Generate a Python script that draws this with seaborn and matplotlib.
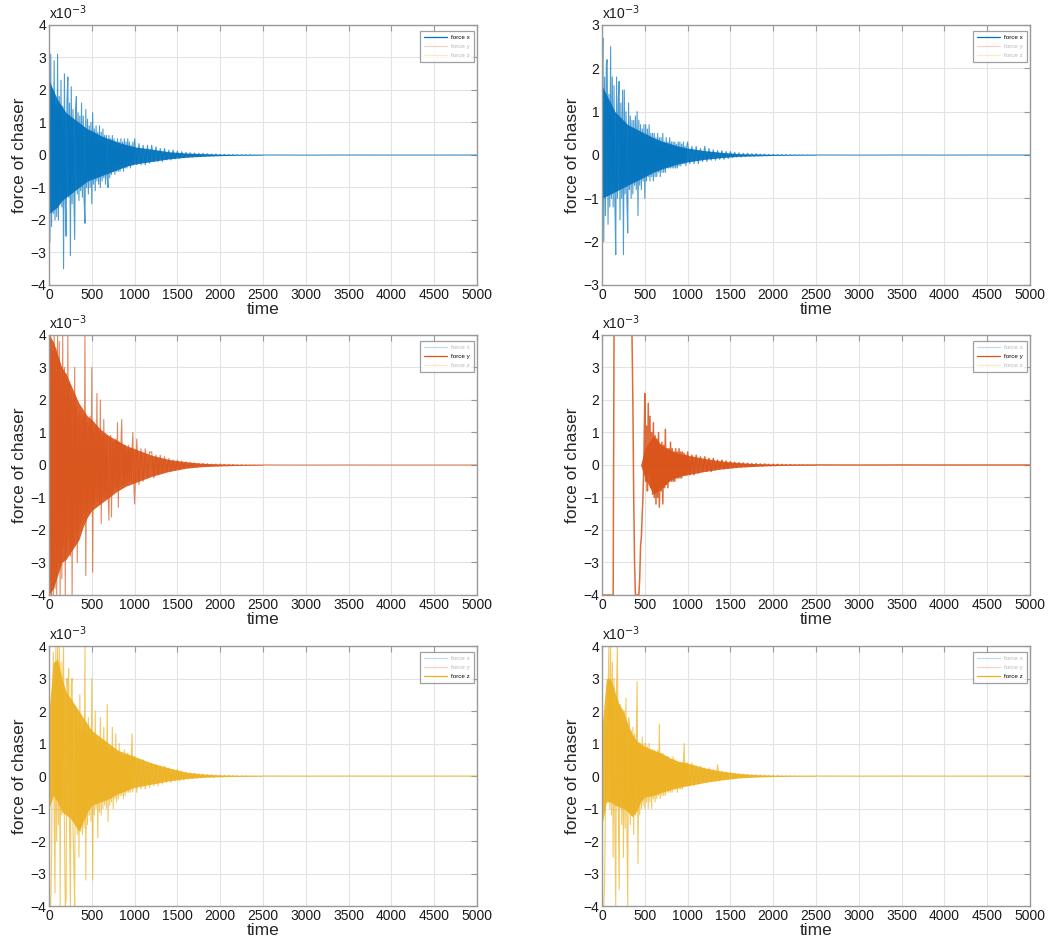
import numpy as np
import pandas as pd
import matplotlib
matplotlib.use('Agg')
import matplotlib.pyplot as plt
import seaborn as sns
from matplotlib.lines import Line2D

sns.set_style('white')
plt.rcParams['font.family'] = ['Liberation Sans', 'DejaVu Sans']

# time grid: dense where the signal is busy, coarse in the quiet tail
t_early = np.arange(0, 1000, 10)
t_late = np.arange(1000, 2500, 25)
t_tail = np.array([2500, 3000, 3500, 4000, 4500, 5000])
time = np.concatenate([t_early, t_late, t_tail])

# times at which the edges of the dense dark core were read
t_env = [0, 50, 100, 150, 200, 250, 300, 350, 400, 450, 500, 600, 700,
         800, 900, 1000, 1200, 1400, 1600, 1800, 2000, 2200, 2500]

names = ['force x', 'force y', 'force z']
colors = ['#0072BD', '#D95319', '#EDB120']

# values, in units of 1e-3
fx_left = [
    3.2, -2.7, 3.1, -2.2, 2.0, -1.8, 2.9, -2.0, 1.6, -1.9,
    3.1, -2.0, 1.8, -1.5, 2.3, -1.6, 1.5, -3.5, 2.5, -1.4,
    -2.5, 1.7, 2.4, -1.3, 1.6, -3.1, 2.1, -1.5, 1.4, -1.2,
    -2.6, 1.4, 1.8, -1.2, 1.3, -1.4, 1.2, -1.1, 1.6, -1.3,
    1.2, -1.4, -2.1, 1.4, -1.0, 1.1, -1.2, 0.9, -1.0, 1.0,
    -1.5, 1.3, -0.9, 0.8, -1.1, 0.9, -0.8, 0.7, -0.9, 0.9,
    -1.0, 0.7, -0.8, 0.8, -0.7, 0.6, -0.9, 0.6, -0.7, -1.0,
    0.6, -0.7, 0.5, -0.6, 0.6, -0.5, 0.5, -0.6, 0.4, -0.5,
    0.5, -0.5, 0.4, -0.5, 0.5, -0.4, 0.4, -0.5, 0.5, -0.4,
    0.4, -0.4, 0.5, -0.3, 0.4, -0.4, 0.3, -0.3, 0.4, -0.3,
    0.5, -0.3, 0.35, -0.3, 0.3, -0.3, 0.3, -0.25,
    0.3, -0.2, 0.25, -0.2, 0.2, -0.2, 0.2, -0.15,
    0.15, -0.15, 0.15, -0.12, 0.12, -0.1, 0.1, -0.08,
    0.08, -0.07, 0.07, -0.06, 0.06, -0.05, 0.05, -0.04,
    0.05, -0.04, 0.04, -0.03, 0.03, -0.03, 0.03, -0.02,
    0.02, -0.02, 0.02, -0.02, 0.015, -0.015, 0.015, -0.01,
    0.01, -0.01, 0.01, -0.01, 0.01, -0.01, 0.01, -0.01,
    0.005, -0.005, 0.005, -0.005,
    0.002, -0.002, 0.001, -0.001, 0.001, 0.0,
]
fx_left_core_hi = [2.3, 2.0, 1.7, 1.5, 1.3, 1.2, 1.1, 1.0, 0.9, 0.8, 0.75, 0.6,
                   0.5, 0.4, 0.32, 0.25, 0.18, 0.1, 0.06, 0.04, 0.02, 0.01, 0.005]
fx_left_core_lo = [-1.8, -1.7, -1.6, -1.4, -1.3, -1.2, -1.1, -1.0, -0.9, -0.8, -0.75, -0.65,
                   -0.55, -0.45, -0.35, -0.28, -0.2, -0.12, -0.07, -0.04, -0.02, -0.01, -0.005]

fx_right = [
    1.5, 2.7, -2.0, 1.8, -1.4, 2.1, 2.2, -1.6, 1.4, -1.2,
    2.5, -1.0, 1.8, -1.2, 1.6, -1.1, -2.3, 1.8, -1.0, 1.3,
    1.7, -1.5, 1.2, -1.0, 1.5, -2.3, 1.5, -0.9, 1.0, -1.0,
    -1.8, 1.2, -0.8, 0.9, -1.0, 0.8, -0.9, 0.8, -0.7, 0.9,
    -0.8, 1.0, -1.4, 0.8, -0.7, 0.7, -0.8, 0.6, -0.6, 0.7,
    -1.0, 0.7, -0.6, 0.6, -0.5, 0.7, -0.6, 0.5, -0.5, 0.5,
    -0.6, 0.5, -0.5, 0.4, -0.5, 0.5, -0.4, 0.4, -0.5, 0.4,
    -0.4, 0.5, -0.4, 0.3, -0.4, 0.4, -0.3, 0.3, -0.3, 0.4,
    -0.3, 0.3, -0.3, 0.3, -0.3, 0.3, -0.3, 0.25, -0.3, 0.3,
    -0.25, 0.3, -0.25, 0.25, -0.2, 0.3, -0.2, 0.2, -0.25, 0.2,
    0.3, -0.2, 0.2, -0.2, 0.2, -0.2, 0.15, -0.15,
    0.2, -0.15, 0.15, -0.12, 0.12, -0.12, 0.1, -0.1,
    0.1, -0.1, 0.08, -0.08, 0.08, -0.06, 0.06, -0.05,
    0.05, -0.05, 0.04, -0.04, 0.04, -0.03, 0.03, -0.03,
    0.03, -0.02, 0.02, -0.02, 0.02, -0.02, 0.015, -0.015,
    0.015, -0.01, 0.01, -0.01, 0.01, -0.01, 0.01, -0.01,
    0.008, -0.008, 0.006, -0.006, 0.005, -0.005, 0.005, -0.005,
    0.004, -0.004, 0.003, -0.003,
    0.002, -0.002, 0.001, -0.001, 0.001, 0.0,
]
fx_right_core_hi = [1.6, 1.4, 1.2, 1.0, 0.9, 0.8, 0.7, 0.65, 0.6, 0.55, 0.5, 0.4,
                    0.32, 0.26, 0.2, 0.16, 0.1, 0.06, 0.03, 0.02, 0.01, 0.006, 0.003]
fx_right_core_lo = [-1.0, -0.95, -0.9, -0.85, -0.8, -0.75, -0.7, -0.65, -0.6, -0.55, -0.5, -0.4,
                    -0.32, -0.26, -0.2, -0.16, -0.1, -0.06, -0.03, -0.02, -0.01, -0.006, -0.003]

fy_left = [
    4.0, -4.0, 4.0, -4.0, 3.5, -4.0, 4.0, -3.8, 3.6, -4.0,
    4.0, -3.0, 3.8, -4.0, 3.0, -3.5, 4.0, -2.5, 3.0, -4.0,
    2.8, -2.6, 4.0, -2.3, 2.5, -2.8, 2.2, -4.0, 2.0, -2.5,
    3.0, -2.0, 1.8, -3.0, 1.5, -2.0, 1.6, -1.8, 1.4, -1.7,
    1.5, -1.5, 4.0, -3.4, 1.3, -1.4, 1.2, -1.5, 1.5, -1.3,
    3.0, -3.3, 1.0, -1.2, 1.2, -1.0, 2.2, -1.1, 1.0, -1.2,
    2.0, -1.8, 0.9, -1.0, 1.4, -0.9, 0.8, -1.0, 0.9, -0.8,
    -1.7, 0.8, 0.9, -1.6, 0.7, -0.8, 0.7, -0.7, 0.8, -0.7,
    1.3, -1.3, 0.7, -0.6, 0.6, 1.4, -0.7, 0.6, -0.6, 0.6,
    -0.6, 0.5, -0.5, 0.6, -0.5, 0.5, -0.5, 0.5, 1.0, -0.5,
    -1.2, 0.8, -0.6, 0.5, -0.5, 0.5, -0.4, 0.4,
    0.4, -0.4, 0.3, -0.3, 0.3, -0.25, 0.25, -0.2,
    0.2, -0.2, 0.15, -0.15, 0.15, -0.12, 0.12, -0.1,
    0.1, -0.08, 0.08, -0.07, 0.06, -0.06, 0.05, -0.05,
    0.05, -0.04, 0.04, -0.04, 0.03, -0.03, 0.03, -0.03,
    0.03, -0.02, 0.02, -0.02, 0.02, -0.015, 0.015, -0.01,
    0.01, -0.01, 0.01, -0.01, 0.008, -0.008, 0.006, -0.006,
    0.005, -0.005, 0.004, -0.004,
    0.002, -0.002, 0.001, -0.001, 0.001, 0.0,
]
fy_left_core_hi = [4.0, 3.8, 3.4, 3.0, 2.8, 2.5, 2.2, 1.9, 1.7, 1.5, 1.4, 1.1,
                   0.9, 0.75, 0.6, 0.5, 0.3, 0.17, 0.1, 0.05, 0.03, 0.015, 0.006]
fy_left_core_lo = [-4.0, -3.8, -3.4, -3.0, -2.9, -2.7, -2.5, -2.3, -1.9, -1.6, -1.4, -1.2,
                   -1.0, -0.8, -0.65, -0.55, -0.35, -0.2, -0.1, -0.05, -0.03, -0.015, -0.006]

# saturated at +-4e-3 for the first ~450 time units
fy_right = [
    -4.0, -4.0, -4.0, -4.0, -4.0, -4.0, -4.0, -4.0, -4.0, -4.0,
    -4.0, -4.0, -4.0, -4.0, 4.0, 4.0, 4.0, 4.0, 4.0, 4.0,
    4.0, 4.0, 4.0, 4.0, 4.0, 4.0, 4.0, 4.0, 4.0, 4.0,
    4.0, 4.0, 4.0, 4.0, 4.0, 4.0, 2.0, -1.0, -3.0, -4.0,
    -4.0, -4.0, -4.0, -4.0, -3.5, -2.5, -2.2, -1.5, -0.8, 0.3,
    2.2, -0.5, 1.2, -0.8, 1.9, -0.3, 1.5, -0.7, 1.0, -0.9,
    1.3, -1.0, 0.9, -1.2, 0.8, -1.0, 1.0, -1.3, 0.6, -0.8,
    0.7, -1.2, 0.6, -0.7, 1.1, -0.6, 0.5, -0.7, 0.5, -0.5,
    0.7, -0.5, 0.5, -0.5, 0.4, -0.5, 0.5, -0.4, 0.4, -0.4,
    0.5, -0.4, 0.4, -0.4, 0.4, -0.3, 0.35, -0.3, 0.3, -0.3,
    0.4, -0.3, 0.3, -0.3, 0.3, -0.25, 0.25, -0.2,
    0.25, -0.2, 0.2, -0.2, 0.2, -0.15, 0.15, -0.12,
    0.15, -0.12, 0.12, -0.1, 0.1, -0.08, 0.08, -0.07,
    0.07, -0.06, 0.06, -0.05, 0.05, -0.04, 0.04, -0.04,
    0.04, -0.03, 0.03, -0.03, 0.03, -0.02, 0.02, -0.02,
    0.02, -0.02, 0.02, -0.015, 0.015, -0.01, 0.01, -0.01,
    0.01, -0.008, 0.008, -0.006, 0.006, -0.005, 0.005, -0.005,
    0.004, -0.004, 0.003, -0.003,
    0.002, -0.002, 0.001, -0.001, 0.001, 0.0,
]
nan = float('nan')
fy_right_core_hi = [nan, nan, nan, nan, nan, nan, nan, nan, nan, 0.0, 0.5, 0.9,
                    0.6, 0.45, 0.35, 0.3, 0.2, 0.12, 0.07, 0.04, 0.02, 0.01, 0.005]
fy_right_core_lo = [nan, nan, nan, nan, nan, nan, nan, nan, nan, 0.0, -0.4, -0.9,
                    -0.7, -0.45, -0.35, -0.3, -0.2, -0.12, -0.07, -0.04, -0.02, -0.01, -0.005]

fz_left = [
    -4.0, -4.0, -4.0, -2.5, 1.5, 3.8, -1.0, -3.6, 4.0, -2.0,
    4.0, -1.5, 4.0, -4.0, 3.5, -1.2, 3.0, 4.0, -1.5, -4.0,
    -3.8, 3.0, 2.5, 3.3, -1.5, -4.0, 2.8, 3.0, -1.6, -2.7,
    -4.0, 2.0, 2.1, -1.8, 1.5, -2.5, 2.5, -1.7, 1.4, -1.8,
    1.5, -1.6, 4.0, -3.2, 1.3, -1.5, 1.8, -1.2, 1.2, -1.4,
    3.0, -3.2, 1.2, -1.2, 2.0, -1.0, 1.1, -1.9, 1.0, -1.1,
    1.8, -1.2, 1.0, -1.0, 1.5, -0.9, 0.9, -1.0, 2.2, -1.4,
    0.8, -0.9, 0.9, -0.8, 1.5, -1.0, 0.8, -0.7, 1.3, -0.8,
    0.7, -0.7, 1.0, -0.6, 0.7, -0.6, 0.6, -0.7, 0.8, -0.6,
    0.6, -0.5, 0.7, -0.5, 0.5, -0.5, 0.6, 1.3, -0.5, 0.5,
    0.6, -0.5, 0.5, -0.4, 0.5, -0.4, 0.4, -0.35,
    0.4, -0.3, 0.35, -0.3, 0.3, -0.25, 0.3, -0.2,
    0.25, -0.2, 0.2, -0.15, 0.2, -0.15, 0.15, -0.12,
    0.12, -0.1, 0.1, -0.08, 0.08, -0.07, 0.07, -0.06,
    0.06, -0.05, 0.05, -0.04, 0.04, -0.04, 0.03, -0.03,
    0.03, -0.03, 0.02, -0.02, 0.02, -0.015, 0.015, -0.01,
    0.01, -0.01, 0.01, -0.01, 0.008, -0.008, 0.006, -0.006,
    0.005, -0.005, 0.004, -0.004,
    0.002, -0.002, 0.001, -0.001, 0.001, 0.0,
]
fz_left_core_hi = [2.0, 3.5, 3.6, 3.0, 2.6, 2.4, 2.2, 2.0, 1.8, 1.6, 1.4, 1.2,
                   1.0, 0.8, 0.7, 0.6, 0.4, 0.25, 0.12, 0.06, 0.03, 0.015, 0.006]
fz_left_core_lo = [-1.0, -0.6, -0.8, -1.1, -1.2, -1.3, -1.5, -1.7, -1.4, -1.1, -0.9, -0.8,
                   -0.7, -0.55, -0.45, -0.35, -0.25, -0.15, -0.08, -0.04, -0.02, -0.01, -0.005]

fz_right = [
    -4.0, -4.0, -4.0, -3.3, -1.0, 1.5, -0.5, 2.5, 4.0, -1.0,
    4.0, -1.2, 3.5, -2.5, 3.0, -1.5, -4.0, 2.8, 4.0, -1.0,
    -3.5, 2.2, 2.0, -1.5, 1.8, -2.5, 2.0, -1.6, 2.4, -1.5,
    -4.0, 1.8, 1.6, -1.5, 1.4, -1.2, 1.5, -1.8, 1.3, -1.2,
    1.2, 2.9, -2.7, 1.0, -1.2, 1.0, -1.0, 1.2, -0.9, 1.0,
    -1.0, 1.0, -0.8, 0.9, -1.0, 1.0, -0.8, 0.8, -1.0, 0.8,
    -0.7, 0.8, -0.8, 0.7, -0.7, 0.8, -0.6, 1.6, -0.7, 0.6,
    -0.6, 0.7, -0.6, 0.6, -0.6, 0.6, -0.5, 0.6, -0.5, 0.5,
    -0.5, 0.5, -0.5, 0.6, -0.4, 0.5, -0.4, 0.4, -0.5, 0.4,
    -0.4, 0.4, -0.4, 0.4, -0.4, 0.4, 1.0, -0.3, 0.4, -0.3,
    0.4, -0.3, 0.4, -0.3, 0.3, -0.25, 0.3, -0.2,
    0.25, -0.2, 0.25, -0.15, 0.2, -0.15, 0.35, -0.15,
    0.15, -0.12, 0.12, -0.1, 0.1, -0.08, 0.08, -0.06,
    0.07, -0.06, 0.06, -0.05, 0.05, -0.04, 0.04, -0.03,
    0.04, -0.03, 0.03, -0.03, 0.025, -0.02, 0.02, -0.02,
    0.02, -0.015, 0.015, -0.01, 0.01, -0.01, 0.01, -0.008,
    0.008, -0.006, 0.006, -0.005, 0.005, -0.005, 0.004, -0.004,
    0.004, -0.003, 0.003, -0.003,
    0.002, -0.002, 0.001, -0.001, 0.001, 0.0,
]
fz_right_core_hi = [1.5, 3.0, 3.0, 2.6, 2.2, 2.0, 1.6, 1.3, 1.1, 1.0, 0.9, 0.8,
                    0.7, 0.55, 0.45, 0.4, 0.25, 0.15, 0.08, 0.04, 0.02, 0.01, 0.005]
fz_right_core_lo = [-1.5, -0.8, -0.8, -0.9, -0.95, -1.0, -1.1, -1.25, -1.1, -0.8, -0.65, -0.6,
                    -0.5, -0.42, -0.35, -0.3, -0.2, -0.12, -0.06, -0.03, -0.015, -0.008, -0.004]

# (trace, core top, core bottom, which component, y-limit)
panels = [
    (fx_left, fx_left_core_hi, fx_left_core_lo, 0, 4),
    (fx_right, fx_right_core_hi, fx_right_core_lo, 0, 3),
    (fy_left, fy_left_core_hi, fy_left_core_lo, 1, 4),
    (fy_right, fy_right_core_hi, fy_right_core_lo, 1, 4),
    (fz_left, fz_left_core_hi, fz_left_core_lo, 2, 4),
    (fz_right, fz_right_core_hi, fz_right_core_lo, 2, 4),
]

fig = plt.figure(figsize=(10.54, 9.5), dpi=100)
lefts = [0.0465, 0.5712]
bottoms = [0.700, 0.3737, 0.0463]

for k, (vals, hi, lo, comp, lim) in enumerate(panels):
    ax = fig.add_axes([lefts[k % 2], bottoms[k // 2], 0.406, 0.2737])
    # the dense part of the trace renders as a solid band
    ax.fill_between(t_env, lo, hi, color=colors[comp], linewidth=0, alpha=0.92)
    df = pd.DataFrame({'time': time, 'force': vals})
    # the saturated trace (middle right) is drawn many times over, so it looks heavier
    lw, a = (1.1, 0.85) if k == 3 else (0.8, 0.7)
    sns.lineplot(data=df, x='time', y='force', ax=ax, color=colors[comp],
                 linewidth=lw, alpha=a, estimator=None, sort=False, legend=False)

    ax.set_xlim(0, 5000)
    ax.set_ylim(-lim, lim)
    ax.set_xticks(np.arange(0, 5001, 500))
    ax.set_yticks(np.arange(-lim, lim + 1, 1))
    ax.grid(True, color='#e3e3e3', linewidth=0.8)
    ax.set_axisbelow(True)
    for sp in ax.spines.values():
        sp.set_color('#999999')
        sp.set_linewidth(1.0)
    ax.tick_params(direction='in', length=4, width=0.8, color='#999999',
                   top=True, right=True, labelsize=10, labelcolor='#1a1a1a', pad=2)
    ax.set_xlabel('time', fontsize=12.5, labelpad=0)
    ax.set_ylabel('force of chaser', fontsize=12.5, labelpad=2)
    ax.text(0.0, 1.012, r'x10$^{-3}$', transform=ax.transAxes, ha='left',
            va='bottom', fontsize=10, color='#1a1a1a')

    handles = []
    for i in range(3):
        a = 1.0 if i == comp else 0.25
        handles.append(Line2D([], [], color=colors[i], lw=0.9, alpha=a))
    leg = ax.legend(handles, names, loc='upper right', bbox_to_anchor=(0.992, 0.978),
                    fontsize=4.5, frameon=True, fancybox=False, edgecolor='#888888',
                    handlelength=3.8, borderpad=0.6, labelspacing=0.6,
                    handletextpad=0.6, borderaxespad=0)
    leg.get_frame().set_linewidth(0.9)
    for i, txt in enumerate(leg.get_texts()):
        txt.set_color('black' if i == comp else '#b8b8b8')

fig.savefig('out.png', dpi=100)
